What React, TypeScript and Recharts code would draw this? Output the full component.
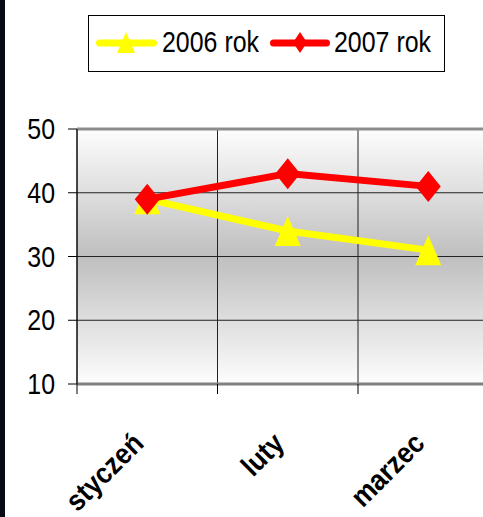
import { ComposedChart, Line, XAxis, YAxis, CartesianGrid, ReferenceLine, Legend } from 'recharts';

const months = ['styczeń', 'luty', 'marzec'];
const values2006 = [39, 34, 31];
const values2007 = [39, 43, 41];
const yTicks = [10, 20, 30, 40, 50];
const seriesNames = ['2006 rok', '2007 rok'];
const seriesColors = ['#ffff00', '#ff0000'];

// "edge" = index of the category, used by the boundary axis for the vertical grid
const data = months.map((month, i) => ({ month, edge: i, y2006: values2006[i], y2007: values2007[i] }));
const edgeTicks = [...months.keys(), months.length];

const FONT = "'Liberation Sans', Arial, sans-serif";

const triPoints = (cx: number, cy: number, w: number, h: number) =>
  `${cx},${cy - h / 2} ${cx + w / 2},${cy + h / 2} ${cx - w / 2},${cy + h / 2}`;
const diaPoints = (cx: number, cy: number, w: number, h: number) =>
  `${cx},${cy - h / 2} ${cx + w / 2},${cy} ${cx},${cy + h / 2} ${cx - w / 2},${cy}`;

const TriangleDot = (props: any) => {
  const { cx, cy, index } = props;
  if (cx == null || cy == null) return <g key={index} />;
  return <polygon key={index} points={triPoints(cx, cy, 26, 30)} fill={seriesColors[0]} />;
};

const DiamondDot = (props: any) => {
  const { cx, cy, index } = props;
  if (cx == null || cy == null) return <g key={index} />;
  return <polygon key={index} points={diaPoints(cx, cy, 25, 31)} fill={seriesColors[1]} />;
};

const EmptyTick = () => <g />;

const YTick = (props: any) => {
  const { x, y, payload } = props;
  return (
    <text
      transform={`translate(${x},${y + 10}) scale(0.86,1)`}
      textAnchor="end"
      fontFamily={FONT}
      fontSize={29}
      fill="#000"
    >
      {payload.value}
    </text>
  );
};

const XTick = (props: any) => {
  const { x, y, payload } = props;
  return (
    <text
      transform={`translate(${x - 2},${y + 43}) rotate(-45) scale(0.9,1)`}
      textAnchor="end"
      fontFamily={FONT}
      fontWeight="bold"
      fontSize={29}
      fill="#000"
    >
      {payload.value}
    </text>
  );
};

const LegendBox = () => (
  <svg width={357} height={57} style={{ display: 'block' }}>
    <rect x={0.5} y={0.5} width={356} height={56} fill="#fff" stroke="#000" />
    <line x1={11.5} y1={28} x2={65.5} y2={28} stroke={seriesColors[0]} strokeWidth={7} strokeLinecap="round" />
    <polygon points={triPoints(38, 27.5, 18, 21)} fill={seriesColors[0]} />
    <text transform="translate(74,37) scale(0.86,1)" fontFamily={FONT} fontSize={29} fill="#000">
      {seriesNames[0]}
    </text>
    <line x1={185.5} y1={28} x2={238.5} y2={28} stroke={seriesColors[1]} strokeWidth={7} strokeLinecap="round" />
    <polygon points={diaPoints(212, 27.5, 14, 21)} fill={seriesColors[1]} />
    <text transform="translate(246,37) scale(0.86,1)" fontFamily={FONT} fontSize={29} fill="#000">
      {seriesNames[1]}
    </text>
  </svg>
);

export default function App() {
  return (
    <div
      style={{
        position: 'absolute',
        left: 0,
        top: 0,
        width: 483,
        height: 517,
        overflow: 'hidden',
        background: '#fff',
      }}
    >
      <div style={{ position: 'absolute', left: 0, top: 0 }}>
        <ComposedChart
          width={520}
          height={517}
          data={data}
          margin={{ top: 129, right: 21.5, bottom: 0, left: 0 }}
        >
          <defs>
            <linearGradient id="plotBg" x1="0" y1="0" x2="0" y2="1">
              <stop offset="0" stopColor="#fdfdfd" />
              <stop offset="0.5" stopColor="#bfbfbf" />
              <stop offset="1" stopColor="#fdfdfd" />
            </linearGradient>
          </defs>
          <CartesianGrid stroke="#222" fill="url(#plotBg)" fillOpacity={1} />
          {/* boundary axis (id 0) sits right under the plot and feeds the vertical grid */}
          <XAxis
            dataKey="edge"
            type="number"
            domain={[0, months.length]}
            ticks={edgeTicks}
            interval={0}
            allowDataOverflow
            tick={<EmptyTick />}
            tickSize={10}
            tickMargin={0}
            height={10}
            axisLine={{ stroke: '#808080', strokeWidth: 3 }}
            tickLine={{ stroke: '#000' }}
          />
          <XAxis
            xAxisId="cat"
            dataKey="month"
            scale="band"
            height={123}
            axisLine={false}
            tickLine={false}
            interval={0}
            tick={<XTick />}
          />
          <YAxis
            domain={[10, 50]}
            ticks={yTicks}
            interval={0}
            width={77}
            tickSize={9}
            tickMargin={13}
            axisLine={{ stroke: '#000' }}
            tickLine={{ stroke: '#000' }}
            tick={<YTick />}
          />
          <ReferenceLine xAxisId="cat" y={50} stroke="#8c8c8c" strokeWidth={3} />
          <Legend
            layout="horizontal"
            verticalAlign="middle"
            align="center"
            wrapperStyle={{ top: 15, left: 88, width: 357, height: 57 }}
            content={() => <LegendBox />}
          />
          <Line
            xAxisId="cat"
            type="linear"
            dataKey="y2006"
            name={seriesNames[0]}
            stroke={seriesColors[0]}
            strokeWidth={7}
            dot={TriangleDot}
            activeDot={false}
            isAnimationActive={false}
          />
          <Line
            xAxisId="cat"
            type="linear"
            dataKey="y2007"
            name={seriesNames[1]}
            stroke={seriesColors[1]}
            strokeWidth={7}
            dot={DiamondDot}
            activeDot={false}
            isAnimationActive={false}
          />
        </ComposedChart>
      </div>
      <div style={{ position: 'absolute', left: 0, top: 0, width: 5, height: 517, background: '#050a14' }} />
    </div>
  );
}
